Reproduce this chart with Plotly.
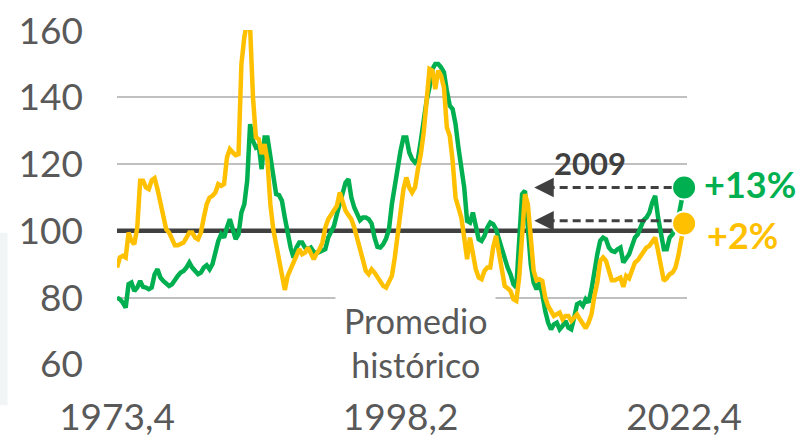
import plotly.graph_objects as go

# Quarterly index 1973Q4 .. 2022Q4 (197 quarters)
quarters = list(range(197))
tick_positions = [0, 98, 196]
tick_labels = ["1973,4", "1998,2", "2022,4"]
y_ticks = [60, 80, 100, 120, 140, 160]

green = [80, 79.5, 78.5, 77, 84, 84.5, 82, 83, 85, 83.2,
         83, 82.5, 83, 87, 88.5, 86, 85, 84, 83.5, 84,
         85.5, 86.5, 87.5, 88, 89, 90.5, 89, 87.7, 87, 87.5,
         89, 89.7, 88.5, 90, 93.5, 97, 99, 98, 101, 103.5,
         100.5, 97.5, 99, 105.5, 108, 115, 132, 127, 125, 125.5,
         118.5, 128, 128, 121.5, 115, 111, 110.7, 109, 104, 99,
         95, 92, 95, 96.5, 96.5, 95, 94.5, 95, 93.7, 93.3,
         93.7, 94, 94.5, 98, 99.5, 101.5, 105, 108, 111, 114.5,
         115.5, 110, 107, 105, 103.2, 104, 104, 103.5, 102.2, 98,
         95.2, 95, 96, 97.7, 100.5, 108, 114, 119, 124, 128,
         128, 123.5, 121.5, 120.5, 121.5, 127, 134, 139, 143, 148.5,
         150, 150, 149, 147.5, 142, 137.5, 136.5, 132, 125, 118,
         113, 103, 102.5, 105.5, 101, 97.5, 97, 98.5, 101, 102.5,
         102, 100.5, 97.5, 94.5, 91.5, 89, 87, 84, 83, 97,
         111, 112, 101, 90, 84.5, 82.5, 84.5, 81, 76, 72.5,
         70.5, 72, 72.5, 70.5, 71.5, 73, 71, 70.5, 74, 78,
         78.5, 77.5, 79.5, 78.5, 82.5, 88.5, 93, 97, 98, 97.5,
         95, 94, 93.7, 94.5, 95, 90.5, 92, 93, 95.5, 98,
         99, 101, 103.2, 104, 105.5, 108.5, 110.5, 104, 98.5, 94.5,
         94.5, 98, 99, 101, 104, 108, 113]

orange = [89, 92, 92.5, 92, 99.5, 97, 96, 101, 115, 115,
          113, 112.5, 115.2, 115.8, 112.5, 108.5, 105, 100.5, 99.5, 97.5,
          95.7, 95.7, 96, 96.5, 98, 99.5, 99.5, 98, 97.5, 99.5,
          104, 108, 110, 110.5, 111.5, 114, 113.5, 114, 122, 124.5,
          123.5, 122.7, 123, 150, 158, 163, 161, 140, 128, 127.5,
          123, 126, 121, 108, 100.5, 96, 90, 86, 82.3, 86.5,
          88.5, 90.2, 93, 94.5, 93, 93.5, 95, 93, 91.5, 93.2,
          94.5, 96.5, 101, 103.5, 105, 106, 107.5, 111.5, 109, 106,
          104.7, 103.5, 101, 97.5, 94.2, 90.5, 88, 87, 88.5, 87.5,
          86, 84.5, 83.5, 83, 84.5, 86.5, 92, 98.5, 105, 112.5,
          116, 113, 111.5, 113, 118.5, 123, 129.5, 140, 148.5, 148,
          142.5, 148, 146.5, 143, 131, 128.5, 121, 110, 107, 104,
          98, 91.5, 98, 93, 88.5, 86, 85.5, 88, 89, 89,
          95, 98.5, 93.5, 88, 83.5, 82.8, 82, 79.5, 79, 86,
          100, 111, 108, 97, 88, 85.2, 85.5, 85, 80, 77.5,
          75.8, 74.5, 75, 75.5, 73.5, 74.5, 74.5, 73, 74, 75,
          73.5, 72, 70.8, 72.5, 75, 80.5, 84.5, 91, 92, 91,
          88, 85.2, 85.2, 85.5, 86, 83.2, 86.5, 85.8, 88, 90.5,
          91.2, 92.5, 94.2, 95, 95.5, 97, 98, 94, 89, 85,
          85.8, 87, 87.5, 89, 92.5, 98, 102]

average_value = 100
average_span = [0, 192.5]
last_green = 113
last_orange = 102.2
arrow_levels = [113, 103]
arrow_tip_q = 144.2
arrow_tail_q = 191.7
ref_label = "2009"

GREEN = "#00b050"
ORANGE = "#ffc000"
DARK = "#404040"
TEXT = "#595959"
FONT = "Lato"

fig = go.Figure()

fig.add_trace(go.Scatter(x=average_span, y=[average_value, average_value], mode="lines",
                         line=dict(color=DARK, width=4.5), hoverinfo="skip"))
fig.add_trace(go.Scatter(x=quarters, y=green, mode="lines",
                         line=dict(color=GREEN, width=4.5)))
fig.add_trace(go.Scatter(x=quarters, y=orange, mode="lines",
                         line=dict(color=ORANGE, width=4.5)))
fig.add_trace(go.Scatter(x=[quarters[-1]], y=[last_green], mode="markers",
                         marker=dict(color=GREEN, size=24, line=dict(color="white", width=2)),
                         cliponaxis=False))
fig.add_trace(go.Scatter(x=[quarters[-1]], y=[last_orange], mode="markers",
                         marker=dict(color=ORANGE, size=24, line=dict(color="white", width=2)),
                         cliponaxis=False))

# dashed arrows
for lvl in arrow_levels:
    fig.add_shape(type="line", xref="x", yref="y", x0=arrow_tail_q, x1=arrow_tip_q + 4.5,
                  y0=lvl, y1=lvl, line=dict(color=DARK, width=3, dash="8px,5px"), layer="above")
    fig.add_annotation(x=arrow_tip_q, y=lvl, ax=arrow_tip_q + 5.5, ay=lvl, axref="x", ayref="y",
                       xref="x", yref="y", text="", showarrow=True, arrowhead=2,
                       arrowsize=1.3, arrowwidth=3, arrowcolor=DARK, standoff=0)

# light strip at left edge
fig.add_shape(type="rect", xref="paper", yref="paper", x0=-0.206, x1=-0.192, y0=-0.12, y1=0.395,
              fillcolor="#f2f5f5", line=dict(width=0), layer="below")

fig.add_annotation(xref="paper", yref="paper", x=0.523, y=0.066, text="Promedio<br>histórico",
                   showarrow=False, font=dict(family=FONT, size=34, color=TEXT),
                   bgcolor="white", borderpad=8, align="center", xanchor="center", yanchor="middle")
fig.add_annotation(xref="paper", yref="paper", x=0.830, y=0.602, text="<b>" + ref_label + "</b>",
                   showarrow=False, font=dict(family=FONT, size=31, color=DARK),
                   xanchor="center", yanchor="middle")
fig.add_annotation(xref="paper", yref="paper", x=1.1105, y=0.539, text="<b>+13%</b>",
                   showarrow=False, font=dict(family=FONT, size=36, color=GREEN),
                   xanchor="center", yanchor="middle")
fig.add_annotation(xref="paper", yref="paper", x=1.098, y=0.389, text="<b>+2%</b>",
                   showarrow=False, font=dict(family=FONT, size=36, color=ORANGE),
                   xanchor="center", yanchor="middle")

fig.update_layout(
    width=802, height=438,
    margin=dict(l=117, r=115, t=30, b=73),
    plot_bgcolor="white", paper_bgcolor="white",
    showlegend=False,
    font=dict(family=FONT, color=TEXT),
    xaxis=dict(range=[0, 197], tickvals=tick_positions, ticktext=tick_labels,
               showgrid=False, zeroline=False, showline=False, ticks="",
               tickfont=dict(size=37, color=TEXT), ticklabelstandoff=27, automargin=False),
    yaxis=dict(range=[59.8, 160.2], tickvals=y_ticks,
               showgrid=True, gridcolor="#c0c0c0", gridwidth=1.5, zeroline=False,
               showline=False, ticks="", tickfont=dict(size=37, color=TEXT),
               ticklabelstandoff=33, automargin=False),
)

fig.write_html("out.html", config={"displayModeBar": False},
               post_script="document.body.style.margin='0';document.body.style.overflow='hidden';")
